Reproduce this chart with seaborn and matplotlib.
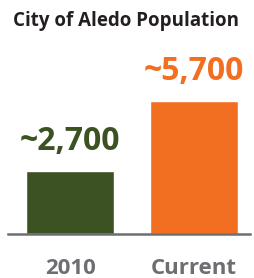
import matplotlib
matplotlib.use('Agg')
import matplotlib.pyplot as plt
import seaborn as sns
import pandas as pd

# Data
CATEGORIES = ['2010', 'Current']
POPULATION = [2700, 5700]
VALUE_LABELS = ['~2,700', '~5,700']
BAR_COLORS = ['#3d5222', '#f26f21']

TITLE = 'City of Aledo Population'

sns.set_style('white')
plt.rcParams['font.family'] = ['Open Sans', 'DejaVu Sans']

df = pd.DataFrame({'Period': CATEGORIES, 'Population': POPULATION})

fig = plt.figure(figsize=(2.55, 2.78), dpi=100)
ax = fig.add_axes([8 / 255, 44 / 278, 242 / 255, 200 / 278])

sns.barplot(data=df, x='Period', y='Population', hue='Period',
            palette=BAR_COLORS, width=0.71, legend=False, ax=ax,
            saturation=1)

ax.set_xlim(-0.5, 1.45)
ax.set_ylim(0, 200 / (133 / 5700))

# Value labels above bars
for i, (val, lab, col) in enumerate(zip(POPULATION, VALUE_LABELS, BAR_COLORS)):
    ax.text(i, val + 560, lab, ha='center', va='bottom', color=col,
            fontsize=23, fontweight='bold', clip_on=False)

# Axes styling
for side in ['top', 'right', 'left']:
    ax.spines[side].set_visible(False)
ax.spines['bottom'].set_color('#6d6e71')
ax.spines['bottom'].set_linewidth(1.8)
ax.set_yticks([])
ax.set_xlabel('')
ax.set_ylabel('')
ax.tick_params(axis='x', length=0, pad=17, labelsize=16, colors='#6d6e71')
for t in ax.get_xticklabels():
    t.set_fontweight('bold')

fig.text(13 / 255, 1 - 21 / 278, TITLE, ha='left', va='center',
         fontsize=13.5, fontweight='bold', color='#231f20')

plt.savefig('out.png', dpi=100)
